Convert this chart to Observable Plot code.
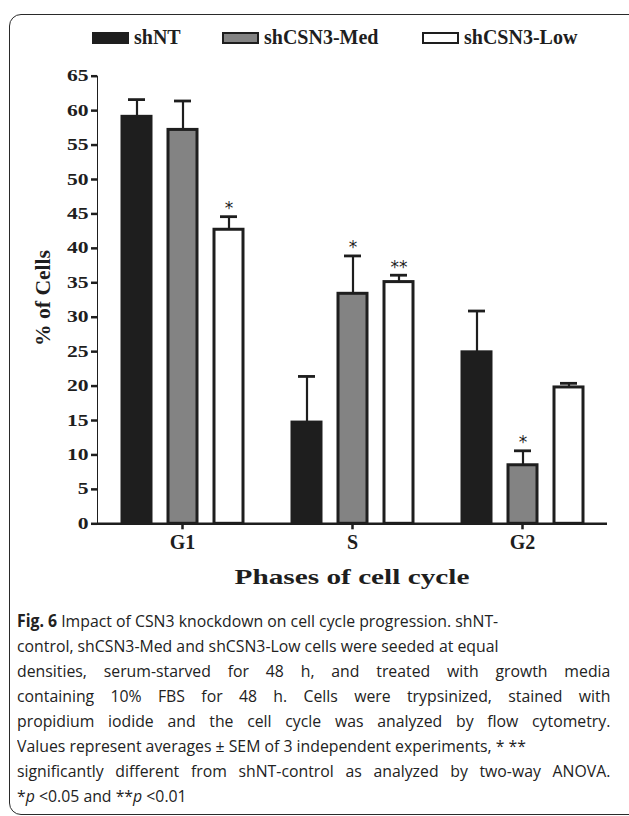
<!DOCTYPE html>
<html><head><meta charset="utf-8">
<script src="https://cdn.jsdelivr.net/npm/d3@7"></script>
<script src="https://cdn.jsdelivr.net/npm/@observablehq/plot@0.6"></script>
<style>
html,body{margin:0;padding:0;background:#fff;}
body{width:629px;height:816px;overflow:hidden;position:relative;font-family:"Liberation Serif",serif;color:#1e1e1e;}
#frame{position:absolute;left:9px;top:14px;width:660px;height:801px;border:1.5px solid #2a2a2a;border-radius:12px;box-sizing:border-box;}
.item{position:absolute;top:26px;height:23px;line-height:23px;display:flex;align-items:center;font-weight:bold;font-size:20px;white-space:nowrap;}
.sw{display:inline-block;width:37px;height:12px;box-sizing:border-box;margin-right:5px;border:2.5px solid #1e1e1e;}
#chart{position:absolute;left:0;top:56px;}
#ytitle{position:absolute;left:43px;top:298px;transform:translate(-50%,-50%) rotate(-90deg) scaleX(1.08);font-weight:bold;font-size:20px;white-space:nowrap;}
#xtitle{position:absolute;left:352px;top:577px;transform:translate(-50%,-50%) scaleX(1.33);font-weight:bold;font-size:22px;white-space:nowrap;}
#caption{position:absolute;left:17px;top:608px;width:593px;font-family:"Open Sans",sans-serif;font-size:17px;line-height:25px;color:#222;}
#caption div{white-space:nowrap;text-align:left;width:638px;transform:scaleX(0.93);transform-origin:0 50%;}
#caption div.j{text-align:justify;text-align-last:justify;}
#chart g[aria-label*="axis"] text{font-family:"Liberation Serif",serif;font-weight:bold;fill:#1e1e1e;}
#chart g[aria-label^="y-axis"] text{font-size:16px;}
#chart g[aria-label^="fx-axis"] text{font-size:20px;}
#chart g[aria-label*="axis"] line,#chart g[aria-label*="axis"] path{stroke:#1e1e1e;stroke-width:2.5px;}
</style>
</head>
<body>
<div id="frame"></div>
<div id="legend"></div>
<div id="chart"></div>
<div id="ytitle">% of Cells</div>
<div id="xtitle">Phases of cell cycle</div>
<div id="caption">
<div><b>Fig. 6</b> Impact of CSN3 knockdown on cell cycle progression. shNT-</div>
<div>control, shCSN3-Med and shCSN3-Low cells were seeded at equal</div>
<div class="j">densities, serum-starved for 48 h, and treated with growth media</div>
<div class="j">containing 10% FBS for 48 h. Cells were trypsinized, stained with</div>
<div class="j">propidium iodide and the cell cycle was analyzed by flow cytometry.</div>
<div>Values represent averages ± SEM of 3 independent experiments, * **</div>
<div class="j">significantly different from shNT-control as analyzed by two-way ANOVA.</div>
<div>*<i>p</i> &lt;0.05 and **<i>p</i> &lt;0.01</div>
</div>
<script>
const phases = ["G1", "S", "G2"];
const groups = ["shNT", "shCSN3-Med", "shCSN3-Low"];
const shNT = [59.1, 14.7, 24.9];
const shNTErr = [2.5, 6.7, 6.0];
const shMed = [57.2, 33.4, 8.5];
const shMedErr = [4.2, 5.5, 2.1];
const shLow = [42.7, 35.1, 19.8];
const shLowErr = [1.9, 1.0, 0.6];
const sigNT = ["", "", ""];
const sigMed = ["", "*", "*"];
const sigLow = ["*", "**", ""];
const groupFills = ["#1e1e1e", "#838383", "#ffffff"];

const series = [[shNT, shNTErr, sigNT], [shMed, shMedErr, sigMed], [shLow, shLowErr, sigLow]];
const data = [];
phases.forEach((p, i) => series.forEach(([v, e, s], j) => data.push({phase: p, group: groups[j], value: v[i], err: e[i], sig: s[i], fill: groupFills[j]})));

// legend
const legend = document.getElementById("legend");
const legendLeft = [92, 222, 422];
groups.forEach((g, j) => {
  const it = document.createElement("div");
  it.className = "item";
  it.style.left = legendLeft[j] + "px";
  const sw = document.createElement("span");
  sw.className = "sw";
  sw.style.background = groupFills[j];
  it.appendChild(sw);
  it.appendChild(document.createTextNode(g));
  legend.appendChild(it);
});

const plot = Plot.plot({
  width: 629, height: 544,
  marginLeft: 97, marginRight: 22, marginTop: 19.7, marginBottom: 76.7,
  style: {background: "transparent", color: "#1e1e1e"},
  fx: {domain: phases, padding: 0, axis: "bottom", label: null, tickSize: 6, tickPadding: 5},
  x: {domain: groups, paddingInner: 0.376, paddingOuter: 0.516, axis: null},
  y: {domain: [0, 65], ticks: d3.range(0, 66, 5), tickSize: 6, tickPadding: 3, label: null, line: true},
  marks: [
    Plot.barY(data, {fx: "phase", x: "group", y: "value", fill: "fill", stroke: "#1e1e1e", strokeWidth: 3}),
    Plot.ruleX(data, {fx: "phase", x: "group", y1: "value", y2: d => d.value + d.err, stroke: "#1e1e1e", strokeWidth: 2.2}),
    Plot.tickY(data, {fx: "phase", x: "group", y: d => d.value + d.err, stroke: "#1e1e1e", strokeWidth: 2.8, insetLeft: 6, insetRight: 6}),
    Plot.text(data.filter(d => d.sig), {fx: "phase", x: "group", y: d => d.value + d.err, text: "sig", dy: -8, fontSize: 17, fontFamily: "DejaVu Sans", fill: "#1e1e1e"}),
    Plot.ruleY([0], {stroke: "#1e1e1e", strokeWidth: 2.5})
  ]
});
document.getElementById("chart").appendChild(plot);

// widen the y tick labels as in the reference
document.querySelectorAll('#chart g[aria-label^="y-axis"] text').forEach(t => {
  const b = t.getBBox();
  const ax = b.x + b.width;
  const ex = t.getAttribute("transform");
  t.setAttribute("transform", (ex ? ex + " " : "") + `translate(${ax},0) scale(1.35,1) translate(${-ax},0)`);
});
</script>
</body></html>
